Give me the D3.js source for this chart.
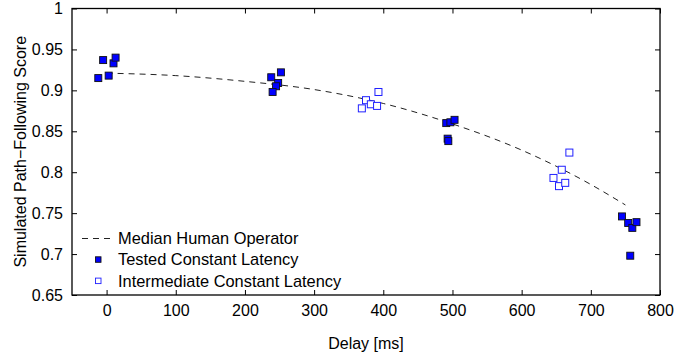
<!DOCTYPE html>
<html>
<head>
<meta charset="utf-8">
<script src="https://cdn.jsdelivr.net/npm/d3@7"></script>
<style>
  body { margin: 0; background: white; }
  text { font-family: "Liberation Sans", Arial, sans-serif; }
</style>
</head>
<body>
<div id="my_viz"></div>
<script>
var width = 693,
    height = 362;

// median human operator curve (delay ms, score)
var medianDelay = [0, 100, 200, 300, 400, 500, 600, 700, 750];
var medianScore = [0.921, 0.918, 0.911, 0.901, 0.884, 0.859, 0.827, 0.785, 0.760];

// tested constant latency
var testedDelay = [-12, -5, 3, 10, 13, 238, 252, 248, 245, 240, 491, 497, 503, 493, 494, 745, 754, 760, 766, 757];
var testedScore = [0.915, 0.937, 0.918, 0.933, 0.940, 0.916, 0.922, 0.909, 0.905, 0.898, 0.860, 0.861, 0.864, 0.841, 0.838, 0.746, 0.738, 0.732, 0.739, 0.698];

// intermediate constant latency
var interDelay = [369, 375, 382, 391, 393, 669, 658, 646, 654, 663];
var interScore = [0.878, 0.888, 0.883, 0.881, 0.898, 0.824, 0.803, 0.793, 0.783, 0.787];

var xTicks = [0, 100, 200, 300, 400, 500, 600, 700, 800];
var yTicks = [0.65, 0.7, 0.75, 0.8, 0.85, 0.9, 0.95, 1];
var yTickLabels = ["0.65", "0.7", "0.75", "0.8", "0.85", "0.9", "0.95", "1"];

var legendLabels = ["Median Human Operator", "Tested Constant Latency", "Intermediate Constant Latency"];

var pLeft = 72, pRight = 660, pTop = 8.5, pBottom = 295;

var x = d3.scaleLinear().domain([-50, 800]).range([pLeft, pRight]);
var y = d3.scaleLinear().domain([0.65, 1]).range([pBottom, pTop]);

var svg = d3.select("#my_viz")
    .append("svg")
    .attr("width", width)
    .attr("height", height)
    .style("background", "white");

// box + ticks on all sides (inward)
var tickLen = 5;
function styleAxis(g) {
    g.select(".domain").remove();
    g.selectAll(".tick line").attr("stroke", "#000");
    g.selectAll(".tick text").attr("font-size", 16).attr("fill", "#000")
        .style("font-family", "'Liberation Sans', Arial, sans-serif");
}

svg.append("g")
    .attr("transform", "translate(0," + pBottom + ")")
    .call(d3.axisBottom(x).tickValues(xTicks).tickSizeInner(-tickLen).tickSizeOuter(0).tickPadding(10))
    .call(styleAxis);

svg.append("g")
    .attr("transform", "translate(0," + pTop + ")")
    .call(d3.axisTop(x).tickValues(xTicks).tickSizeInner(-tickLen).tickSizeOuter(0).tickFormat(""))
    .call(styleAxis);

svg.append("g")
    .attr("transform", "translate(" + pLeft + ",0)")
    .call(d3.axisLeft(y).tickValues(yTicks).tickSizeInner(-tickLen).tickSizeOuter(0).tickPadding(9)
        .tickFormat(function (d, i) { return yTickLabels[i]; }))
    .call(styleAxis);

svg.append("g")
    .attr("transform", "translate(" + pRight + ",0)")
    .call(d3.axisRight(y).tickValues(yTicks).tickSizeInner(-tickLen).tickSizeOuter(0).tickFormat(""))
    .call(styleAxis);

svg.append("rect")
    .attr("x", pLeft)
    .attr("y", pTop)
    .attr("width", pRight - pLeft)
    .attr("height", pBottom - pTop)
    .attr("fill", "none")
    .attr("stroke", "#000")
    .attr("stroke-width", 1.3);

// median line
var line = d3.line()
    .x(function (d) { return x(d[0]); })
    .y(function (d) { return y(d[1]); })
    .curve(d3.curveMonotoneX);

svg.append("path")
    .datum(d3.zip(medianDelay, medianScore))
    .attr("d", line)
    .attr("fill", "none")
    .attr("stroke", "#222")
    .attr("stroke-width", 1)
    .attr("stroke-dasharray", "6,5");

// markers
var s = 7;
svg.append("g").selectAll("rect")
    .data(d3.zip(interDelay, interScore))
    .enter().append("rect")
    .attr("x", function (d) { return x(d[0]) - s / 2; })
    .attr("y", function (d) { return y(d[1]) - s / 2; })
    .attr("width", s)
    .attr("height", s)
    .attr("fill", "white")
    .attr("stroke", "#2020ff")
    .attr("stroke-width", 1);

svg.append("g").selectAll("rect")
    .data(d3.zip(testedDelay, testedScore))
    .enter().append("rect")
    .attr("x", function (d) { return x(d[0]) - s / 2; })
    .attr("y", function (d) { return y(d[1]) - s / 2; })
    .attr("width", s)
    .attr("height", s)
    .attr("fill", "#0000ff")
    .attr("stroke", "#111")
    .attr("stroke-width", 0.9);

// legend
var legend = svg.append("g").attr("transform", "translate(82, 244)");
legendLabels.forEach(function (label, i) {
    var row = legend.append("g").attr("transform", "translate(0," + i * 21.3 + ")");
    if (i === 0) {
        row.append("line")
            .attr("x1", 0).attr("x2", 32)
            .attr("y1", -5.5).attr("y2", -5.5)
            .attr("stroke", "#222")
            .attr("stroke-dasharray", "6,5");
    } else {
        row.append("rect")
            .attr("x", 13.5).attr("y", -8.5)
            .attr("width", 5.5).attr("height", 5.5)
            .attr("fill", i === 1 ? "#0000ff" : "white")
            .attr("stroke", i === 1 ? "#111" : "#2020ff")
            .attr("stroke-width", 0.9);
    }
    row.append("text")
        .attr("x", 36)
        .attr("y", 0)
        .attr("font-size", 16.4)
        .text(label);
});

// axis titles
svg.append("text")
    .attr("x", (pLeft + pRight) / 2)
    .attr("y", 349)
    .attr("text-anchor", "middle")
    .attr("font-size", 16)
    .text("Delay [ms]");

svg.append("text")
    .attr("transform", "translate(26," + (pTop + pBottom) / 2 + ") rotate(-90)")
    .attr("text-anchor", "middle")
    .attr("font-size", 16)
    .text("Simulated Path\u2212Following Score");
</script>
</body>
</html>
